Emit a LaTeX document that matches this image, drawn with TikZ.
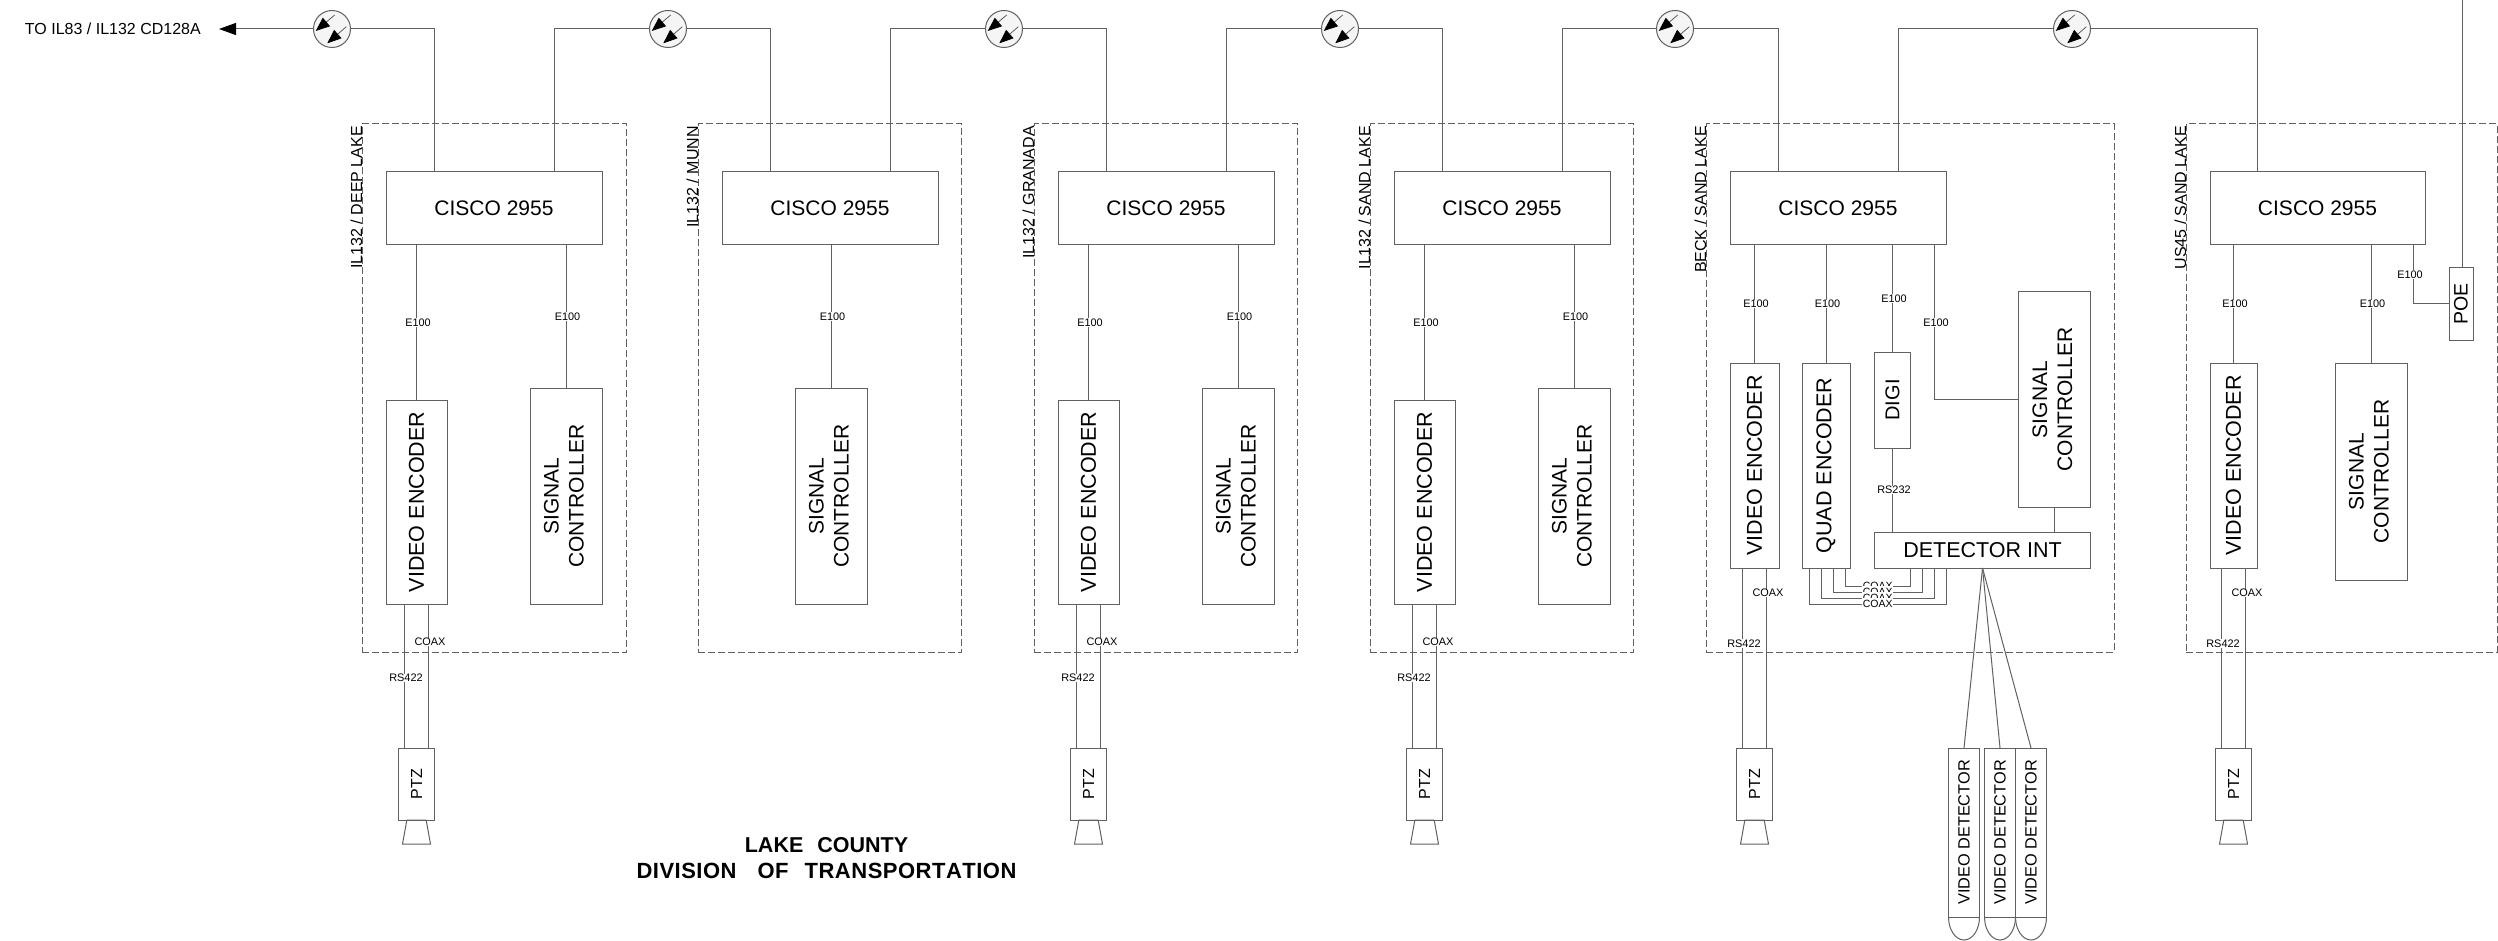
\documentclass[tikz,border=0pt]{standalone}
\usepackage{graphicx}
\usepackage{fontspec}
\setmainfont{Liberation Sans}
\usetikzlibrary{shapes.geometric, arrows.meta, positioning}

\newcommand{\signaltext}{\rotatebox{90}{\begin{tabular}{@{}c@{}}SIGNAL\\CONTROLLER\end{tabular}}}

\begin{document}
\begin{tikzpicture}[
	x=1pt, y=-1pt,
	wire/.style={draw=black!62, line width=1pt},
	arrow/.style={wire, -{Triangle[length=17pt,width=12pt,black]}},
	boxbase/.style={rectangle, draw=black!62, line width=1pt, inner sep=0pt, outer sep=0pt, text=black, align=center},
	switchbox/.style={boxbase, minimum width=216pt, minimum height=73pt, font=\fontsize{21}{25}\selectfont},
	encoderbox/.style={boxbase, minimum width=61pt, minimum height=204pt, font=\fontsize{21.5}{25}\selectfont},
	controlbox/.style={boxbase, minimum width=72pt, minimum height=216pt, font=\fontsize{21}{25}\selectfont},
	ptzbox/.style={boxbase, minimum width=36pt, minimum height=72pt, font=\fontsize{16}{19}\selectfont},
	lensbox/.style={trapezium, draw=black!62, line width=1pt, inner sep=0pt, outer sep=0pt, trapezium stretches=true, trapezium left angle=78, trapezium right angle=78, minimum width=28pt, minimum height=24pt},
	detectbox/.style={boxbase, minimum width=31pt, minimum height=169pt, font=\fontsize{16.3}{19}\selectfont},
	sitebox/.style={rectangle, draw=black!62, dash pattern=on 7pt off 3pt, line width=1pt, inner sep=0pt, outer sep=0pt, minimum height=528pt, anchor=north west},
	sitename/.style={rotate=90, anchor=base east, inner sep=0pt, xshift=-2pt, font=\fontsize{16}{19}\selectfont},
	tinylabel/.style={fill=white, inner sep=0.6pt, xshift=1.5pt, font=\fontsize{10.9}{12}\selectfont},
	coax/.style={fill=white, inner xsep=0.6pt, inner ysep=2.5pt, text height=7.6pt, text depth=0pt, font=\fontsize{10.5}{12}\selectfont},
	fiber/.style={circle, draw=black!62, fill=black!4, line width=1pt, minimum size=37pt, inner sep=0pt, outer sep=0pt,
		path picture={
			\draw [-{Triangle[length=14pt,width=11pt,black]}, line width=0.7pt, draw=black!70] ([shift={(2.7,-14)}]path picture bounding box.center) -- ([shift={(-16.3,2)}]path picture bounding box.center);
			\draw [-{Triangle[length=14pt,width=11pt,black]}, line width=0.7pt, draw=black!70] ([shift={(14.3,-2.3)}]path picture bounding box.center) -- ([shift={(-4.7,14.3)}]path picture bounding box.center);
		}}
	]
	\useasboundingbox (0,0) rectangle (2498,941);

	% dashed site outlines
	\node (site1) [sitebox, minimum width=264.5pt] at (362,124) {};
	\node (site2) [sitebox, minimum width=263.5pt] at (698,124) {};
	\node (site3) [sitebox, minimum width=263.5pt] at (1034,124) {};
	\node (site4) [sitebox, minimum width=263.5pt] at (1370,124) {};
	\node (site5) [sitebox, minimum width=408pt] at (1706,124) {};
	\node (site6) [sitebox, minimum width=311pt] at (2186,124) {};
	\node (name1) [sitename] at (site1.north west) {IL132 / DEEP LAKE};
	\node (name2) [sitename] at (site2.north west) {IL132 / MUNN};
	\node (name3) [sitename] at (site3.north west) {IL132 / GRANADA};
	\node (name4) [sitename] at (site4.north west) {IL132 / SAND LAKE};
	\node (name5) [sitename] at (site5.north west) {BECK / SAND LAKE};
	\node (name6) [sitename] at (site6.north west) {US45 / SAND LAKE};

	% switches
	\node (cisco1) [switchbox, anchor=north west] at (386,172) {CISCO 2955};
	\node (cisco2) [switchbox, right=120pt of cisco1] {CISCO 2955};
	\node (cisco3) [switchbox, right=120pt of cisco2] {CISCO 2955};
	\node (cisco4) [switchbox, right=120pt of cisco3] {CISCO 2955};
	\node (cisco5) [switchbox, right=120pt of cisco4] {CISCO 2955};
	\node (cisco6) [switchbox, right=264pt of cisco5, minimum width=215pt] {CISCO 2955};

	% fiber links along the top
	\node (fiber1) [fiber] at (332,29) {};
	\node (fiber2) [fiber] at (668,29) {};
	\node (fiber3) [fiber] at (1004,29) {};
	\node (fiber4) [fiber] at (1340,29) {};
	\node (fiber5) [fiber] at (1675,29) {};
	\node (fiber6) [fiber] at (2072,29) {};
	\coordinate (tip) at (219,29);
	\coordinate (feed) at (2462,0);
	\node (tocd) [left=18pt of tip, inner sep=0pt, font=\fontsize{16}{19}\selectfont] {TO IL83 / IL132 CD128A};

	\draw [arrow] (fiber1.west) -- (tip);
	\draw [wire] (fiber1.east) -| ([xshift=-60pt]cisco1.north);
	\draw [wire] (fiber2.west) -| ([xshift=60pt]cisco1.north);
	\draw [wire] (fiber2.east) -| ([xshift=-60pt]cisco2.north);
	\draw [wire] (fiber3.west) -| ([xshift=60pt]cisco2.north);
	\draw [wire] (fiber3.east) -| ([xshift=-60pt]cisco3.north);
	\draw [wire] (fiber4.west) -| ([xshift=60pt]cisco3.north);
	\draw [wire] (fiber4.east) -| ([xshift=-60pt]cisco4.north);
	\draw [wire] (fiber5.west) -| ([xshift=60pt]cisco4.north);
	\draw [wire] (fiber5.east) -| ([xshift=-60pt]cisco5.north);
	\draw [wire] (fiber6.west) -| ([xshift=60pt]cisco5.north);
	\draw [wire] (fiber6.east) -| ([xshift=-60pt]cisco6.north);

	% site 1
	\node (video1) [encoderbox, below=155pt of cisco1.south west, anchor=north west] {\rotatebox{90}{VIDEO ENCODER}};
	\node (control1) [controlbox, below=143pt of cisco1.south east, anchor=north east] {\signaltext};
	\node (ptz1) [ptzbox, below=144pt of video1] {\rotatebox{90}{PTZ}};
	\node (lens1) [lensbox, below=0pt of ptz1] {\phantom{x}};
	\draw [wire] (cisco1.south -| video1) -- node[tinylabel] {E100} (video1.north);
	\draw [wire] (cisco1.south -| control1) -- node[tinylabel] {E100} (control1.north);
	\draw [wire] ([xshift=-12pt]video1.south) -- node[tinylabel, pos=0.514] {RS422} ([xshift=-12pt]ptz1.north);
	\draw [wire] ([xshift=12pt]video1.south) -- node[tinylabel, pos=0.264] {COAX} ([xshift=12pt]ptz1.north);

	% site 2
	\node (control2) [controlbox, below=143pt of cisco2, xshift=1pt] {\signaltext};
	\draw [wire] (cisco2.south -| control2) -- node[tinylabel] {E100} (control2.north);

	% site 3
	\node (video3) [encoderbox, below=155pt of cisco3.south west, anchor=north west] {\rotatebox{90}{VIDEO ENCODER}};
	\node (control3) [controlbox, below=143pt of cisco3.south east, anchor=north east] {\signaltext};
	\node (ptz3) [ptzbox, below=144pt of video3] {\rotatebox{90}{PTZ}};
	\node (lens3) [lensbox, below=0pt of ptz3] {\phantom{x}};
	\draw [wire] (cisco3.south -| video3) -- node[tinylabel] {E100} (video3.north);
	\draw [wire] (cisco3.south -| control3) -- node[tinylabel] {E100} (control3.north);
	\draw [wire] ([xshift=-12pt]video3.south) -- node[tinylabel, pos=0.514] {RS422} ([xshift=-12pt]ptz3.north);
	\draw [wire] ([xshift=12pt]video3.south) -- node[tinylabel, pos=0.264] {COAX} ([xshift=12pt]ptz3.north);

	% site 4
	\node (video4) [encoderbox, below=155pt of cisco4.south west, anchor=north west] {\rotatebox{90}{VIDEO ENCODER}};
	\node (control4) [controlbox, below=143pt of cisco4.south east, anchor=north east] {\signaltext};
	\node (ptz4) [ptzbox, below=144pt of video4] {\rotatebox{90}{PTZ}};
	\node (lens4) [lensbox, below=0pt of ptz4] {\phantom{x}};
	\draw [wire] (cisco4.south -| video4) -- node[tinylabel] {E100} (video4.north);
	\draw [wire] (cisco4.south -| control4) -- node[tinylabel] {E100} (control4.north);
	\draw [wire] ([xshift=-12pt]video4.south) -- node[tinylabel, pos=0.514] {RS422} ([xshift=-12pt]ptz4.north);
	\draw [wire] ([xshift=12pt]video4.south) -- node[tinylabel, pos=0.264] {COAX} ([xshift=12pt]ptz4.north);

	% site 5
	\node (video5) [encoderbox, minimum width=49pt, minimum height=205pt, below=118pt of cisco5.south west, anchor=north west] {\rotatebox{90}{VIDEO ENCODER}};
	\node (quad) [encoderbox, minimum width=48pt, minimum height=205pt, right=23pt of video5] {\rotatebox{90}{QUAD ENCODER}};
	\node (digi) [boxbase, minimum width=36pt, minimum height=96pt, below=107pt of cisco5, xshift=54.5pt, font=\fontsize{20}{24}\selectfont] {\rotatebox{90}{DIGI}};
	\node (detint) [boxbase, minimum width=216pt, minimum height=36pt, below=84pt of digi.south west, anchor=north west, font=\fontsize{21.5}{25}\selectfont] {DETECTOR INT};
	\node (control5) [controlbox, above=25pt of detint.north east, anchor=south east, minimum height=215pt] {\signaltext};
	\node (ptz5) [ptzbox, below=180pt of video5] {\rotatebox{90}{PTZ}};
	\node (lens5) [lensbox, below=0pt of ptz5] {\phantom{x}};
	\node (detect1) [detectbox, below=180pt of detint, xshift=-18.5pt] {\rotatebox{90}{VIDEO DETECTOR}};
	\node (detect2) [detectbox, right=5pt of detect1] {\rotatebox{90}{VIDEO DETECTOR}};
	\node (detect3) [detectbox, right=0pt of detect2] {\rotatebox{90}{VIDEO DETECTOR}};
	\draw [wire] (detect1.south west) arc [start angle=180, end angle=360, x radius=15.5pt, y radius=23pt];
	\draw [wire] (detect2.south west) arc [start angle=180, end angle=360, x radius=15.5pt, y radius=23pt];
	\draw [wire] (detect3.south west) arc [start angle=180, end angle=360, x radius=15.5pt, y radius=23pt];
	\draw [wire] (cisco5.south -| video5) -- node[tinylabel] {E100} (video5.north);
	\draw [wire] (cisco5.south -| quad) -- node[tinylabel] {E100} (quad.north);
	\draw [wire] (cisco5.south -| digi) -- node[tinylabel] {E100} (digi.north);
	\draw [wire] (control5.west) -| node[tinylabel, pos=0.75] {E100} ([xshift=96.5pt]cisco5.south);
	\draw [wire] (digi.south) -- node[tinylabel] {RS232} (digi.south |- detint.north);
	\draw [wire] (control5.south) -- (control5.south |- detint.north);
	\draw [wire] ([xshift=-12pt]video5.south) -- node[tinylabel, pos=0.42] {RS422} ([xshift=-12pt]ptz5.north);
	\draw [wire] ([xshift=12pt]video5.south) -- node[tinylabel, pos=0.139] {COAX} ([xshift=12pt]ptz5.north);
	\draw [wire] ([xshift=19pt]quad.south) -- ++(0,18) -| node[coax, pos=0.25] {COAX} ([xshift=-72pt]detint.south);
	\draw [wire] ([xshift=7pt]quad.south) -- ++(0,24) -| node[coax, pos=0.25] {COAX} ([xshift=-60pt]detint.south);
	\draw [wire] ([xshift=-5pt]quad.south) -- ++(0,30) -| node[coax, pos=0.25] {COAX} ([xshift=-48pt]detint.south);
	\draw [wire] ([xshift=-17pt]quad.south) -- ++(0,36) -| node[coax, pos=0.25] {COAX} ([xshift=-36pt]detint.south);
	\draw [wire] (detint.south) -- (detect1.north);
	\draw [wire] (detint.south) -- (detect2.north);
	\draw [wire] (detint.south) -- (detect3.north);

	% site 6
	\node (video6) [encoderbox, minimum width=47pt, minimum height=205pt, below=118pt of cisco6.south west, anchor=north west] {\rotatebox{90}{VIDEO ENCODER}};
	\node (control6) [controlbox, below=118pt of cisco6, xshift=53.5pt, minimum height=217pt] {\signaltext};
	\node (poe) [boxbase, minimum width=24pt, minimum height=72pt, anchor=north west, font=\fontsize{19.5}{24}\selectfont] at (2449,268) {\rotatebox{90}{POE}};
	\node (ptz6) [ptzbox, below=180pt of video6] {\rotatebox{90}{PTZ}};
	\node (lens6) [lensbox, below=0pt of ptz6] {\phantom{x}};
	\draw [wire] (cisco6.south -| video6) -- node[tinylabel] {E100} (video6.north);
	\draw [wire] (cisco6.south -| control6) -- node[tinylabel] {E100} (control6.north);
	\draw [wire] (poe.west) -| node[tinylabel, pos=0.75, xshift=-4.5pt] {E100} ([xshift=95.5pt]cisco6.south);
	\draw [wire] (feed) -- (feed |- poe.north);
	\draw [wire] ([xshift=-12pt]video6.south) -- node[tinylabel, pos=0.42] {RS422} ([xshift=-12pt]ptz6.north);
	\draw [wire] ([xshift=12pt]video6.south) -- node[tinylabel, pos=0.139] {COAX} ([xshift=12pt]ptz6.north);

	% title
	\node (lake) [inner sep=0pt, font=\fontsize{21.5}{25}\selectfont\bfseries] at (826.5,845) {LAKE\hspace{14pt}COUNTY};
	\node (division) [below=10pt of lake, inner sep=0pt, font=\fontsize{22}{25}\selectfont\bfseries] {D\kern.5pt I\kern.5pt V\kern.5pt I\kern.5pt S\kern.5pt I\kern.5pt O\kern.5pt N\hspace{21pt}O\kern.5pt F\hspace{16pt}T\kern.5pt R\kern.5pt A\kern.5pt N\kern.5pt S\kern.5pt P\kern.5pt O\kern.5pt R\kern.5pt T\kern.5pt A\kern.5pt T\kern.5pt I\kern.5pt O\kern.5pt N};
\end{tikzpicture}
\end{document}
